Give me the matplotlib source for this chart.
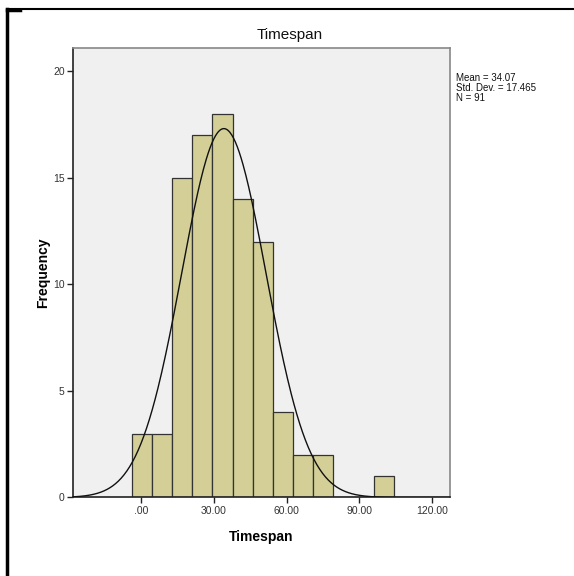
import numpy as np
import matplotlib

matplotlib.use("Agg")

import matplotlib.pyplot as plt
from matplotlib.lines import Line2D

plt.rcParams["font.family"] = ["Liberation Sans", "DejaVu Sans"]

# histogram of Timespan: 13 equal bins
bin_start = -4.0
bin_width = 8.33
counts = [3, 3, 15, 17, 18, 14, 12, 4, 2, 2, 0, 0, 1]
mean = 34.07
std_dev = 17.465
n_obs = 91

x_ticks = [0, 30, 60, 90, 120]
x_tick_labels = [".00", "30.00", "60.00", "90.00", "120.00"]
y_ticks = [0, 5, 10, 15, 20]

fig = plt.figure(figsize=(5.74, 5.76), dpi=100)
ax = fig.add_axes([0.127, 0.1363, 0.657, 0.7804])
ax.set_facecolor("#f0f0f0")

edges = bin_start + bin_width * np.arange(len(counts) + 1)
ax.bar(edges[:-1], counts, width=bin_width, align="edge",
       color="#d3cf97", edgecolor="#333333", linewidth=0.9, zorder=2)

# fitted normal curve scaled to counts
xs = np.linspace(-28.3, 127.5, 400)
ys = n_obs * bin_width * np.exp(-0.5 * ((xs - mean) / std_dev) ** 2) / (std_dev * np.sqrt(2 * np.pi))
ax.plot(xs, ys, color="#111111", linewidth=1.0, zorder=3)

ax.set_xlim(-28.3, 127.5)
ax.set_ylim(0, 21.1)
ax.set_xticks(x_ticks)
ax.set_xticklabels(x_tick_labels)
ax.set_yticks(y_ticks)
ax.tick_params(axis="both", labelsize=7.5, labelcolor="#333333", length=4,
               width=1, color="#222222", direction="out", pad=2)

for side in ("top", "right"):
    ax.spines[side].set_color("#888888")
    ax.spines[side].set_linewidth(1.2)
for side in ("left", "bottom"):
    ax.spines[side].set_color("#222222")
    ax.spines[side].set_linewidth(1.2)

ax.set_xlabel("Timespan", fontsize=10, fontweight="bold", labelpad=10)
ax.set_ylabel("Frequency", fontsize=10, fontweight="bold", labelpad=2)

fig.text(290 / 574, 1 - 35 / 576, "Timespan", fontsize=11, ha="center",
         va="center", color="#111111")

fig.text(456 / 574, 1 - 73 / 576,
         f"Mean = {mean}\nStd. Dev. = {std_dev}\nN = {n_obs}",
         fontsize=7, va="top", ha="left", linespacing=1.0, color="#111111")

# page frame lines
fig.add_artist(Line2D([7 / 574, 1], [1 - 9 / 576] * 2, color="black", linewidth=1.5,
                      transform=fig.transFigure))
fig.add_artist(Line2D([7 / 574, 7 / 574], [0, 1 - 9 / 576], color="black", linewidth=2.5,
                      transform=fig.transFigure))
fig.add_artist(Line2D([7 / 574, 20 / 574], [1 - 9.5 / 576] * 2, color="black", linewidth=2.5,
                      transform=fig.transFigure))

fig.savefig("out.png", dpi=100)
